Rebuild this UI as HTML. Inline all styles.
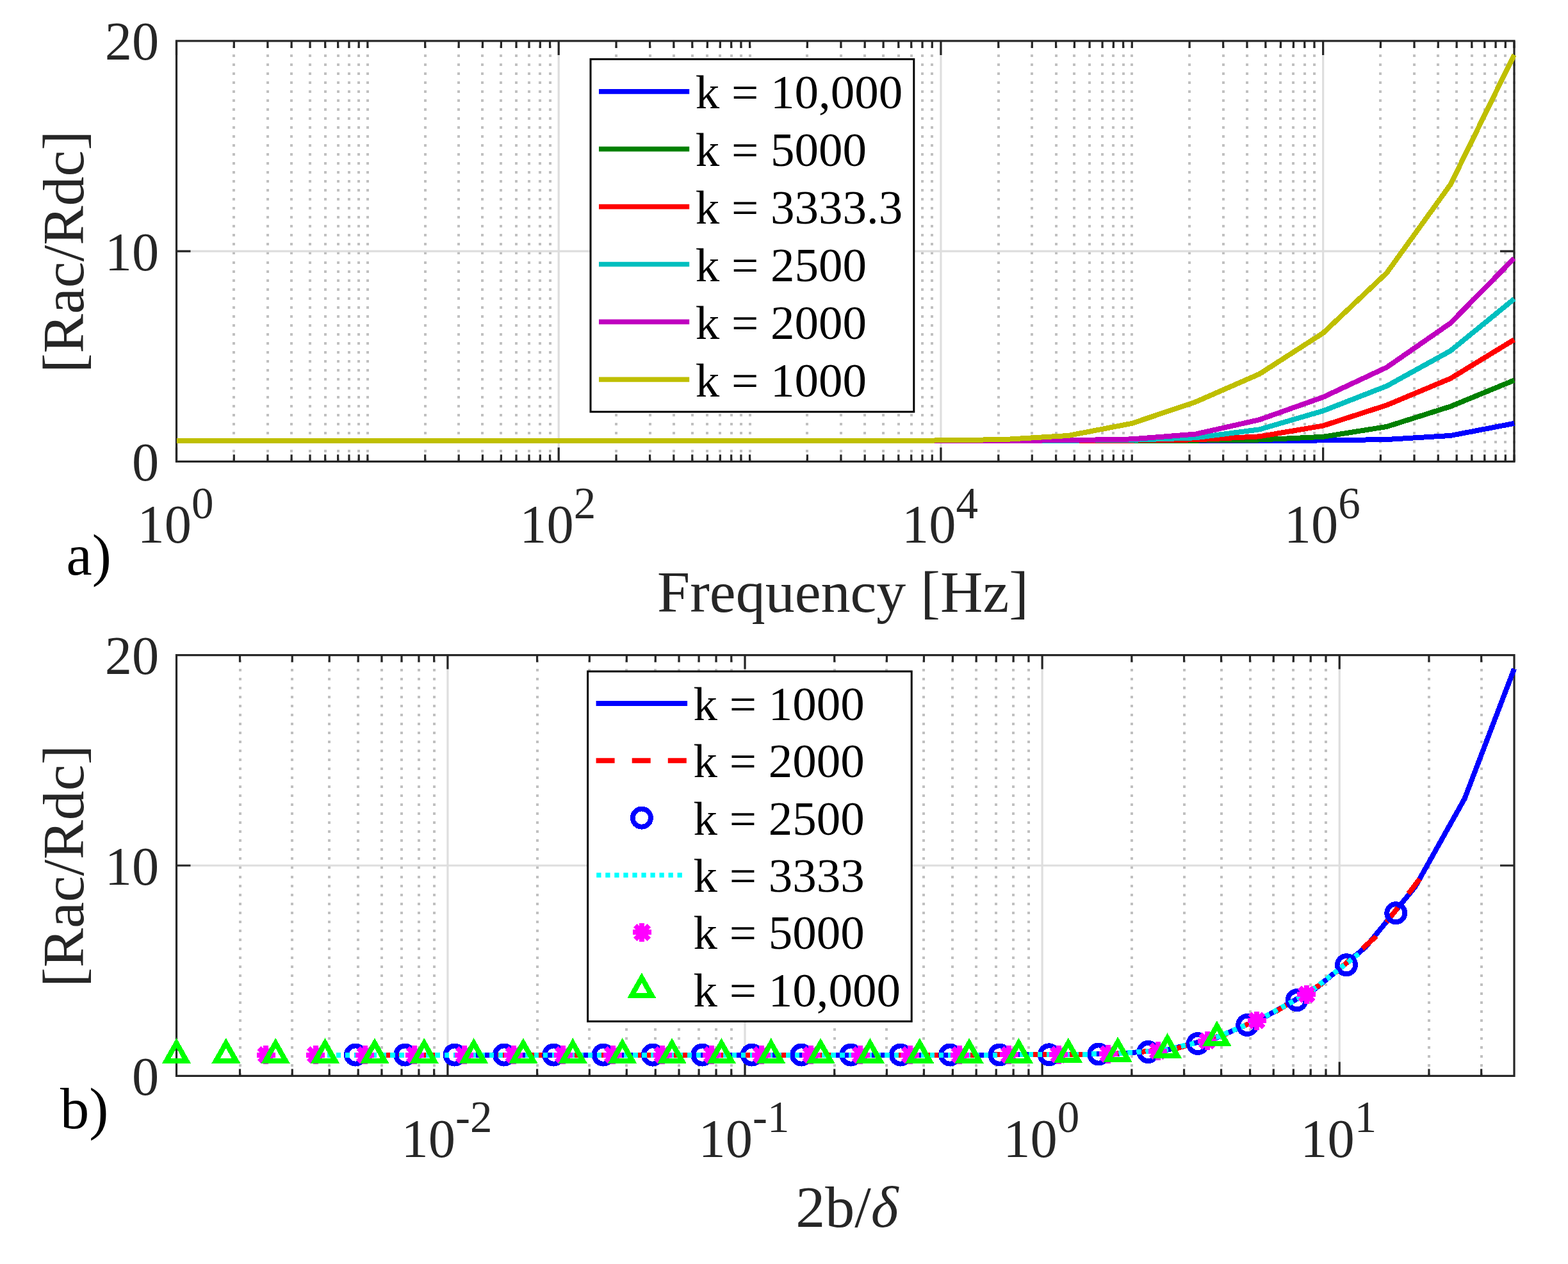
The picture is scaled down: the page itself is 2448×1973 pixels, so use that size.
<!DOCTYPE html>
<html><head><meta charset="utf-8"><title>Rac/Rdc plots</title><style>html,body{margin:0;padding:0;background:#fff;}svg{display:block;}</style></head><body>
<svg width="2448" height="1973" viewBox="0 0 2448 1973">
<rect width="2448" height="1973" fill="#fff"/>
<line x1="365.31" y1="720.4" x2="365.31" y2="63.9" stroke="#c0c0c0" stroke-width="4" stroke-dasharray="4 10.04" shape-rendering="crispEdges"/>
<line x1="417.85" y1="720.4" x2="417.85" y2="63.9" stroke="#c0c0c0" stroke-width="4" stroke-dasharray="4 10.04" shape-rendering="crispEdges"/>
<line x1="455.13" y1="720.4" x2="455.13" y2="63.9" stroke="#c0c0c0" stroke-width="4" stroke-dasharray="4 10.04" shape-rendering="crispEdges"/>
<line x1="484.04" y1="720.4" x2="484.04" y2="63.9" stroke="#c0c0c0" stroke-width="4" stroke-dasharray="4 10.04" shape-rendering="crispEdges"/>
<line x1="507.67" y1="720.4" x2="507.67" y2="63.9" stroke="#c0c0c0" stroke-width="4" stroke-dasharray="4 10.04" shape-rendering="crispEdges"/>
<line x1="527.64" y1="720.4" x2="527.64" y2="63.9" stroke="#c0c0c0" stroke-width="4" stroke-dasharray="4 10.04" shape-rendering="crispEdges"/>
<line x1="544.94" y1="720.4" x2="544.94" y2="63.9" stroke="#c0c0c0" stroke-width="4" stroke-dasharray="4 10.04" shape-rendering="crispEdges"/>
<line x1="560.21" y1="720.4" x2="560.21" y2="63.9" stroke="#c0c0c0" stroke-width="4" stroke-dasharray="4 10.04" shape-rendering="crispEdges"/>
<line x1="663.67" y1="720.4" x2="663.67" y2="63.9" stroke="#c0c0c0" stroke-width="4" stroke-dasharray="4 10.04" shape-rendering="crispEdges"/>
<line x1="716.21" y1="720.4" x2="716.21" y2="63.9" stroke="#c0c0c0" stroke-width="4" stroke-dasharray="4 10.04" shape-rendering="crispEdges"/>
<line x1="753.49" y1="720.4" x2="753.49" y2="63.9" stroke="#c0c0c0" stroke-width="4" stroke-dasharray="4 10.04" shape-rendering="crispEdges"/>
<line x1="782.4" y1="720.4" x2="782.4" y2="63.9" stroke="#c0c0c0" stroke-width="4" stroke-dasharray="4 10.04" shape-rendering="crispEdges"/>
<line x1="806.02" y1="720.4" x2="806.02" y2="63.9" stroke="#c0c0c0" stroke-width="4" stroke-dasharray="4 10.04" shape-rendering="crispEdges"/>
<line x1="826" y1="720.4" x2="826" y2="63.9" stroke="#c0c0c0" stroke-width="4" stroke-dasharray="4 10.04" shape-rendering="crispEdges"/>
<line x1="843.3" y1="720.4" x2="843.3" y2="63.9" stroke="#c0c0c0" stroke-width="4" stroke-dasharray="4 10.04" shape-rendering="crispEdges"/>
<line x1="858.56" y1="720.4" x2="858.56" y2="63.9" stroke="#c0c0c0" stroke-width="4" stroke-dasharray="4 10.04" shape-rendering="crispEdges"/>
<line x1="962.03" y1="720.4" x2="962.03" y2="63.9" stroke="#c0c0c0" stroke-width="4" stroke-dasharray="4 10.04" shape-rendering="crispEdges"/>
<line x1="1014.57" y1="720.4" x2="1014.57" y2="63.9" stroke="#c0c0c0" stroke-width="4" stroke-dasharray="4 10.04" shape-rendering="crispEdges"/>
<line x1="1051.84" y1="720.4" x2="1051.84" y2="63.9" stroke="#c0c0c0" stroke-width="4" stroke-dasharray="4 10.04" shape-rendering="crispEdges"/>
<line x1="1080.76" y1="720.4" x2="1080.76" y2="63.9" stroke="#c0c0c0" stroke-width="4" stroke-dasharray="4 10.04" shape-rendering="crispEdges"/>
<line x1="1104.38" y1="720.4" x2="1104.38" y2="63.9" stroke="#c0c0c0" stroke-width="4" stroke-dasharray="4 10.04" shape-rendering="crispEdges"/>
<line x1="1124.36" y1="720.4" x2="1124.36" y2="63.9" stroke="#c0c0c0" stroke-width="4" stroke-dasharray="4 10.04" shape-rendering="crispEdges"/>
<line x1="1141.66" y1="720.4" x2="1141.66" y2="63.9" stroke="#c0c0c0" stroke-width="4" stroke-dasharray="4 10.04" shape-rendering="crispEdges"/>
<line x1="1156.92" y1="720.4" x2="1156.92" y2="63.9" stroke="#c0c0c0" stroke-width="4" stroke-dasharray="4 10.04" shape-rendering="crispEdges"/>
<line x1="1260.39" y1="720.4" x2="1260.39" y2="63.9" stroke="#c0c0c0" stroke-width="4" stroke-dasharray="4 10.04" shape-rendering="crispEdges"/>
<line x1="1312.92" y1="720.4" x2="1312.92" y2="63.9" stroke="#c0c0c0" stroke-width="4" stroke-dasharray="4 10.04" shape-rendering="crispEdges"/>
<line x1="1350.2" y1="720.4" x2="1350.2" y2="63.9" stroke="#c0c0c0" stroke-width="4" stroke-dasharray="4 10.04" shape-rendering="crispEdges"/>
<line x1="1379.11" y1="720.4" x2="1379.11" y2="63.9" stroke="#c0c0c0" stroke-width="4" stroke-dasharray="4 10.04" shape-rendering="crispEdges"/>
<line x1="1402.74" y1="720.4" x2="1402.74" y2="63.9" stroke="#c0c0c0" stroke-width="4" stroke-dasharray="4 10.04" shape-rendering="crispEdges"/>
<line x1="1422.71" y1="720.4" x2="1422.71" y2="63.9" stroke="#c0c0c0" stroke-width="4" stroke-dasharray="4 10.04" shape-rendering="crispEdges"/>
<line x1="1440.01" y1="720.4" x2="1440.01" y2="63.9" stroke="#c0c0c0" stroke-width="4" stroke-dasharray="4 10.04" shape-rendering="crispEdges"/>
<line x1="1455.28" y1="720.4" x2="1455.28" y2="63.9" stroke="#c0c0c0" stroke-width="4" stroke-dasharray="4 10.04" shape-rendering="crispEdges"/>
<line x1="1558.74" y1="720.4" x2="1558.74" y2="63.9" stroke="#c0c0c0" stroke-width="4" stroke-dasharray="4 10.04" shape-rendering="crispEdges"/>
<line x1="1611.28" y1="720.4" x2="1611.28" y2="63.9" stroke="#c0c0c0" stroke-width="4" stroke-dasharray="4 10.04" shape-rendering="crispEdges"/>
<line x1="1648.56" y1="720.4" x2="1648.56" y2="63.9" stroke="#c0c0c0" stroke-width="4" stroke-dasharray="4 10.04" shape-rendering="crispEdges"/>
<line x1="1677.47" y1="720.4" x2="1677.47" y2="63.9" stroke="#c0c0c0" stroke-width="4" stroke-dasharray="4 10.04" shape-rendering="crispEdges"/>
<line x1="1701.1" y1="720.4" x2="1701.1" y2="63.9" stroke="#c0c0c0" stroke-width="4" stroke-dasharray="4 10.04" shape-rendering="crispEdges"/>
<line x1="1721.07" y1="720.4" x2="1721.07" y2="63.9" stroke="#c0c0c0" stroke-width="4" stroke-dasharray="4 10.04" shape-rendering="crispEdges"/>
<line x1="1738.37" y1="720.4" x2="1738.37" y2="63.9" stroke="#c0c0c0" stroke-width="4" stroke-dasharray="4 10.04" shape-rendering="crispEdges"/>
<line x1="1753.63" y1="720.4" x2="1753.63" y2="63.9" stroke="#c0c0c0" stroke-width="4" stroke-dasharray="4 10.04" shape-rendering="crispEdges"/>
<line x1="1857.1" y1="720.4" x2="1857.1" y2="63.9" stroke="#c0c0c0" stroke-width="4" stroke-dasharray="4 10.04" shape-rendering="crispEdges"/>
<line x1="1909.64" y1="720.4" x2="1909.64" y2="63.9" stroke="#c0c0c0" stroke-width="4" stroke-dasharray="4 10.04" shape-rendering="crispEdges"/>
<line x1="1946.91" y1="720.4" x2="1946.91" y2="63.9" stroke="#c0c0c0" stroke-width="4" stroke-dasharray="4 10.04" shape-rendering="crispEdges"/>
<line x1="1975.83" y1="720.4" x2="1975.83" y2="63.9" stroke="#c0c0c0" stroke-width="4" stroke-dasharray="4 10.04" shape-rendering="crispEdges"/>
<line x1="1999.45" y1="720.4" x2="1999.45" y2="63.9" stroke="#c0c0c0" stroke-width="4" stroke-dasharray="4 10.04" shape-rendering="crispEdges"/>
<line x1="2019.43" y1="720.4" x2="2019.43" y2="63.9" stroke="#c0c0c0" stroke-width="4" stroke-dasharray="4 10.04" shape-rendering="crispEdges"/>
<line x1="2036.73" y1="720.4" x2="2036.73" y2="63.9" stroke="#c0c0c0" stroke-width="4" stroke-dasharray="4 10.04" shape-rendering="crispEdges"/>
<line x1="2051.99" y1="720.4" x2="2051.99" y2="63.9" stroke="#c0c0c0" stroke-width="4" stroke-dasharray="4 10.04" shape-rendering="crispEdges"/>
<line x1="2155.46" y1="720.4" x2="2155.46" y2="63.9" stroke="#c0c0c0" stroke-width="4" stroke-dasharray="4 10.04" shape-rendering="crispEdges"/>
<line x1="2208" y1="720.4" x2="2208" y2="63.9" stroke="#c0c0c0" stroke-width="4" stroke-dasharray="4 10.04" shape-rendering="crispEdges"/>
<line x1="2245.27" y1="720.4" x2="2245.27" y2="63.9" stroke="#c0c0c0" stroke-width="4" stroke-dasharray="4 10.04" shape-rendering="crispEdges"/>
<line x1="2274.19" y1="720.4" x2="2274.19" y2="63.9" stroke="#c0c0c0" stroke-width="4" stroke-dasharray="4 10.04" shape-rendering="crispEdges"/>
<line x1="2297.81" y1="720.4" x2="2297.81" y2="63.9" stroke="#c0c0c0" stroke-width="4" stroke-dasharray="4 10.04" shape-rendering="crispEdges"/>
<line x1="2317.78" y1="720.4" x2="2317.78" y2="63.9" stroke="#c0c0c0" stroke-width="4" stroke-dasharray="4 10.04" shape-rendering="crispEdges"/>
<line x1="2335.09" y1="720.4" x2="2335.09" y2="63.9" stroke="#c0c0c0" stroke-width="4" stroke-dasharray="4 10.04" shape-rendering="crispEdges"/>
<line x1="2350.35" y1="720.4" x2="2350.35" y2="63.9" stroke="#c0c0c0" stroke-width="4" stroke-dasharray="4 10.04" shape-rendering="crispEdges"/>
<line x1="573.86" y1="720.4" x2="573.86" y2="63.9" stroke="#c0c0c0" stroke-width="4" stroke-dasharray="4 10.04" shape-rendering="crispEdges"/>
<line x1="1170.57" y1="720.4" x2="1170.57" y2="63.9" stroke="#c0c0c0" stroke-width="4" stroke-dasharray="4 10.04" shape-rendering="crispEdges"/>
<line x1="1767.29" y1="720.4" x2="1767.29" y2="63.9" stroke="#c0c0c0" stroke-width="4" stroke-dasharray="4 10.04" shape-rendering="crispEdges"/>
<line x1="2364" y1="720.4" x2="2364" y2="63.9" stroke="#c0c0c0" stroke-width="4" stroke-dasharray="4 10.04" shape-rendering="crispEdges"/>
<line x1="872.21" y1="720.4" x2="872.21" y2="63.9" stroke="#dedede" stroke-width="3.2"/>
<line x1="1468.93" y1="720.4" x2="1468.93" y2="63.9" stroke="#dedede" stroke-width="3.2"/>
<line x1="2065.64" y1="720.4" x2="2065.64" y2="63.9" stroke="#dedede" stroke-width="3.2"/>
<line x1="275.5" y1="392.15" x2="2364.0" y2="392.15" stroke="#dedede" stroke-width="3.2"/>
<path d="M275.5 720.4V698.4M275.5 63.9V85.9M872.21 720.4V698.4M872.21 63.9V85.9M1468.93 720.4V698.4M1468.93 63.9V85.9M2065.64 720.4V698.4M2065.64 63.9V85.9M365.31 720.4V709.4M365.31 63.9V74.9M417.85 720.4V709.4M417.85 63.9V74.9M455.13 720.4V709.4M455.13 63.9V74.9M484.04 720.4V709.4M484.04 63.9V74.9M507.67 720.4V709.4M507.67 63.9V74.9M527.64 720.4V709.4M527.64 63.9V74.9M544.94 720.4V709.4M544.94 63.9V74.9M560.21 720.4V709.4M560.21 63.9V74.9M663.67 720.4V709.4M663.67 63.9V74.9M716.21 720.4V709.4M716.21 63.9V74.9M753.49 720.4V709.4M753.49 63.9V74.9M782.4 720.4V709.4M782.4 63.9V74.9M806.02 720.4V709.4M806.02 63.9V74.9M826 720.4V709.4M826 63.9V74.9M843.3 720.4V709.4M843.3 63.9V74.9M858.56 720.4V709.4M858.56 63.9V74.9M962.03 720.4V709.4M962.03 63.9V74.9M1014.57 720.4V709.4M1014.57 63.9V74.9M1051.84 720.4V709.4M1051.84 63.9V74.9M1080.76 720.4V709.4M1080.76 63.9V74.9M1104.38 720.4V709.4M1104.38 63.9V74.9M1124.36 720.4V709.4M1124.36 63.9V74.9M1141.66 720.4V709.4M1141.66 63.9V74.9M1156.92 720.4V709.4M1156.92 63.9V74.9M1260.39 720.4V709.4M1260.39 63.9V74.9M1312.92 720.4V709.4M1312.92 63.9V74.9M1350.2 720.4V709.4M1350.2 63.9V74.9M1379.11 720.4V709.4M1379.11 63.9V74.9M1402.74 720.4V709.4M1402.74 63.9V74.9M1422.71 720.4V709.4M1422.71 63.9V74.9M1440.01 720.4V709.4M1440.01 63.9V74.9M1455.28 720.4V709.4M1455.28 63.9V74.9M1558.74 720.4V709.4M1558.74 63.9V74.9M1611.28 720.4V709.4M1611.28 63.9V74.9M1648.56 720.4V709.4M1648.56 63.9V74.9M1677.47 720.4V709.4M1677.47 63.9V74.9M1701.1 720.4V709.4M1701.1 63.9V74.9M1721.07 720.4V709.4M1721.07 63.9V74.9M1738.37 720.4V709.4M1738.37 63.9V74.9M1753.63 720.4V709.4M1753.63 63.9V74.9M1857.1 720.4V709.4M1857.1 63.9V74.9M1909.64 720.4V709.4M1909.64 63.9V74.9M1946.91 720.4V709.4M1946.91 63.9V74.9M1975.83 720.4V709.4M1975.83 63.9V74.9M1999.45 720.4V709.4M1999.45 63.9V74.9M2019.43 720.4V709.4M2019.43 63.9V74.9M2036.73 720.4V709.4M2036.73 63.9V74.9M2051.99 720.4V709.4M2051.99 63.9V74.9M2155.46 720.4V709.4M2155.46 63.9V74.9M2208 720.4V709.4M2208 63.9V74.9M2245.27 720.4V709.4M2245.27 63.9V74.9M2274.19 720.4V709.4M2274.19 63.9V74.9M2297.81 720.4V709.4M2297.81 63.9V74.9M2317.78 720.4V709.4M2317.78 63.9V74.9M2335.09 720.4V709.4M2335.09 63.9V74.9M2350.35 720.4V709.4M2350.35 63.9V74.9M573.86 720.4V709.4M573.86 63.9V74.9M1170.57 720.4V709.4M1170.57 63.9V74.9M1767.29 720.4V709.4M1767.29 63.9V74.9M2364 720.4V709.4M2364 63.9V74.9M275.5 392.15H297.5M2364.0 392.15H2342.0" stroke="#262626" stroke-width="3.2" fill="none"/>
<rect x="275.5" y="63.9" width="2088.5" height="656.5" fill="none" stroke="#262626" stroke-width="3.2" stroke-linejoin="miter"/>
<g fill="none" stroke-width="8.0" stroke-linejoin="round" stroke-linecap="butt" shape-rendering="crispEdges">
<polyline points="275.5,687.87 374.95,687.87 474.4,687.87 573.86,687.87 673.31,687.87 772.76,687.87 872.21,687.87 971.67,687.87 1071.12,687.87 1170.57,687.87 1270.02,687.87 1369.48,687.87 1468.93,687.87 1568.38,687.87 1667.83,687.87 1767.29,687.87 1866.74,687.86 1966.19,687.79 2065.64,687.47 2165.1,686.02 2264.55,679.96 2364,660.86" stroke="#0000ff"/>
<polyline points="275.5,687.87 374.95,687.87 474.4,687.87 573.86,687.87 673.31,687.87 772.76,687.87 872.21,687.87 971.67,687.87 1071.12,687.87 1170.57,687.87 1270.02,687.87 1369.48,687.87 1468.93,687.87 1568.38,687.87 1667.83,687.86 1767.29,687.81 1866.74,687.57 1966.19,686.49 2065.64,681.84 2165.1,665.95 2264.55,634.44 2364,593.54" stroke="#008000"/>
<polyline points="275.5,687.87 374.95,687.87 474.4,687.87 573.86,687.87 673.31,687.87 772.76,687.87 872.21,687.87 971.67,687.87 1071.12,687.87 1170.57,687.87 1270.02,687.87 1369.48,687.87 1468.93,687.87 1568.38,687.86 1667.83,687.8 1767.29,687.55 1866.74,686.37 1966.19,681.34 2065.64,664.53 2165.1,632.38 2264.55,590.79 2364,530.15" stroke="#ff0000"/>
<polyline points="275.5,687.87 374.95,687.87 474.4,687.87 573.86,687.87 673.31,687.87 772.76,687.87 872.21,687.87 971.67,687.87 1071.12,687.87 1170.57,687.87 1270.02,687.87 1369.48,687.87 1468.93,687.86 1568.38,687.83 1667.83,687.65 1767.29,686.84 1866.74,683.3 1966.19,670.36 2065.64,641.33 2165.1,602.52 2264.55,547.62 2364,466.63" stroke="#00bfbf"/>
<polyline points="275.5,687.87 374.95,687.87 474.4,687.87 573.86,687.87 673.31,687.87 772.76,687.87 872.21,687.87 971.67,687.87 1071.12,687.87 1170.57,687.87 1270.02,687.87 1369.48,687.87 1468.93,687.85 1568.38,687.76 1667.83,687.33 1767.29,685.4 1866.74,677.58 1966.19,655.17 2065.64,619.91 2165.1,573.31 2264.55,504.33 2364,403.12" stroke="#bf00bf"/>
<polyline points="275.5,687.87 374.95,687.87 474.4,687.87 573.86,687.87 673.31,687.87 772.76,687.87 872.21,687.87 971.67,687.87 1071.12,687.87 1170.57,687.87 1270.02,687.86 1369.48,687.79 1468.93,687.47 1568.38,686.02 1667.83,679.96 1767.29,660.86 1866.74,627.31 1966.19,583.83 2065.64,519.84 2165.1,425.88 2264.55,287.97 2364,85.54" stroke="#bfbf00"/>
</g>
<line x1="374.5" y1="1679.4" x2="374.5" y2="1022.6" stroke="#c0c0c0" stroke-width="4" stroke-dasharray="4 10.04" shape-rendering="crispEdges"/>
<line x1="456.23" y1="1679.4" x2="456.23" y2="1022.6" stroke="#c0c0c0" stroke-width="4" stroke-dasharray="4 10.04" shape-rendering="crispEdges"/>
<line x1="514.22" y1="1679.4" x2="514.22" y2="1022.6" stroke="#c0c0c0" stroke-width="4" stroke-dasharray="4 10.04" shape-rendering="crispEdges"/>
<line x1="559.19" y1="1679.4" x2="559.19" y2="1022.6" stroke="#c0c0c0" stroke-width="4" stroke-dasharray="4 10.04" shape-rendering="crispEdges"/>
<line x1="595.94" y1="1679.4" x2="595.94" y2="1022.6" stroke="#c0c0c0" stroke-width="4" stroke-dasharray="4 10.04" shape-rendering="crispEdges"/>
<line x1="627.01" y1="1679.4" x2="627.01" y2="1022.6" stroke="#c0c0c0" stroke-width="4" stroke-dasharray="4 10.04" shape-rendering="crispEdges"/>
<line x1="653.93" y1="1679.4" x2="653.93" y2="1022.6" stroke="#c0c0c0" stroke-width="4" stroke-dasharray="4 10.04" shape-rendering="crispEdges"/>
<line x1="677.67" y1="1679.4" x2="677.67" y2="1022.6" stroke="#c0c0c0" stroke-width="4" stroke-dasharray="4 10.04" shape-rendering="crispEdges"/>
<line x1="838.61" y1="1679.4" x2="838.61" y2="1022.6" stroke="#c0c0c0" stroke-width="4" stroke-dasharray="4 10.04" shape-rendering="crispEdges"/>
<line x1="920.34" y1="1679.4" x2="920.34" y2="1022.6" stroke="#c0c0c0" stroke-width="4" stroke-dasharray="4 10.04" shape-rendering="crispEdges"/>
<line x1="978.33" y1="1679.4" x2="978.33" y2="1022.6" stroke="#c0c0c0" stroke-width="4" stroke-dasharray="4 10.04" shape-rendering="crispEdges"/>
<line x1="1023.3" y1="1679.4" x2="1023.3" y2="1022.6" stroke="#c0c0c0" stroke-width="4" stroke-dasharray="4 10.04" shape-rendering="crispEdges"/>
<line x1="1060.05" y1="1679.4" x2="1060.05" y2="1022.6" stroke="#c0c0c0" stroke-width="4" stroke-dasharray="4 10.04" shape-rendering="crispEdges"/>
<line x1="1091.12" y1="1679.4" x2="1091.12" y2="1022.6" stroke="#c0c0c0" stroke-width="4" stroke-dasharray="4 10.04" shape-rendering="crispEdges"/>
<line x1="1118.04" y1="1679.4" x2="1118.04" y2="1022.6" stroke="#c0c0c0" stroke-width="4" stroke-dasharray="4 10.04" shape-rendering="crispEdges"/>
<line x1="1141.78" y1="1679.4" x2="1141.78" y2="1022.6" stroke="#c0c0c0" stroke-width="4" stroke-dasharray="4 10.04" shape-rendering="crispEdges"/>
<line x1="1302.73" y1="1679.4" x2="1302.73" y2="1022.6" stroke="#c0c0c0" stroke-width="4" stroke-dasharray="4 10.04" shape-rendering="crispEdges"/>
<line x1="1384.45" y1="1679.4" x2="1384.45" y2="1022.6" stroke="#c0c0c0" stroke-width="4" stroke-dasharray="4 10.04" shape-rendering="crispEdges"/>
<line x1="1442.44" y1="1679.4" x2="1442.44" y2="1022.6" stroke="#c0c0c0" stroke-width="4" stroke-dasharray="4 10.04" shape-rendering="crispEdges"/>
<line x1="1487.41" y1="1679.4" x2="1487.41" y2="1022.6" stroke="#c0c0c0" stroke-width="4" stroke-dasharray="4 10.04" shape-rendering="crispEdges"/>
<line x1="1524.16" y1="1679.4" x2="1524.16" y2="1022.6" stroke="#c0c0c0" stroke-width="4" stroke-dasharray="4 10.04" shape-rendering="crispEdges"/>
<line x1="1555.23" y1="1679.4" x2="1555.23" y2="1022.6" stroke="#c0c0c0" stroke-width="4" stroke-dasharray="4 10.04" shape-rendering="crispEdges"/>
<line x1="1582.15" y1="1679.4" x2="1582.15" y2="1022.6" stroke="#c0c0c0" stroke-width="4" stroke-dasharray="4 10.04" shape-rendering="crispEdges"/>
<line x1="1605.89" y1="1679.4" x2="1605.89" y2="1022.6" stroke="#c0c0c0" stroke-width="4" stroke-dasharray="4 10.04" shape-rendering="crispEdges"/>
<line x1="1766.84" y1="1679.4" x2="1766.84" y2="1022.6" stroke="#c0c0c0" stroke-width="4" stroke-dasharray="4 10.04" shape-rendering="crispEdges"/>
<line x1="1848.56" y1="1679.4" x2="1848.56" y2="1022.6" stroke="#c0c0c0" stroke-width="4" stroke-dasharray="4 10.04" shape-rendering="crispEdges"/>
<line x1="1906.55" y1="1679.4" x2="1906.55" y2="1022.6" stroke="#c0c0c0" stroke-width="4" stroke-dasharray="4 10.04" shape-rendering="crispEdges"/>
<line x1="1951.53" y1="1679.4" x2="1951.53" y2="1022.6" stroke="#c0c0c0" stroke-width="4" stroke-dasharray="4 10.04" shape-rendering="crispEdges"/>
<line x1="1988.27" y1="1679.4" x2="1988.27" y2="1022.6" stroke="#c0c0c0" stroke-width="4" stroke-dasharray="4 10.04" shape-rendering="crispEdges"/>
<line x1="2019.35" y1="1679.4" x2="2019.35" y2="1022.6" stroke="#c0c0c0" stroke-width="4" stroke-dasharray="4 10.04" shape-rendering="crispEdges"/>
<line x1="2046.26" y1="1679.4" x2="2046.26" y2="1022.6" stroke="#c0c0c0" stroke-width="4" stroke-dasharray="4 10.04" shape-rendering="crispEdges"/>
<line x1="2070" y1="1679.4" x2="2070" y2="1022.6" stroke="#c0c0c0" stroke-width="4" stroke-dasharray="4 10.04" shape-rendering="crispEdges"/>
<line x1="2230.95" y1="1679.4" x2="2230.95" y2="1022.6" stroke="#c0c0c0" stroke-width="4" stroke-dasharray="4 10.04" shape-rendering="crispEdges"/>
<line x1="2312.67" y1="1679.4" x2="2312.67" y2="1022.6" stroke="#c0c0c0" stroke-width="4" stroke-dasharray="4 10.04" shape-rendering="crispEdges"/>
<line x1="698.9" y1="1679.4" x2="698.9" y2="1022.6" stroke="#dedede" stroke-width="3.2"/>
<line x1="1163.01" y1="1679.4" x2="1163.01" y2="1022.6" stroke="#dedede" stroke-width="3.2"/>
<line x1="1627.13" y1="1679.4" x2="1627.13" y2="1022.6" stroke="#dedede" stroke-width="3.2"/>
<line x1="2091.24" y1="1679.4" x2="2091.24" y2="1022.6" stroke="#dedede" stroke-width="3.2"/>
<line x1="275.5" y1="1351" x2="2364.0" y2="1351" stroke="#dedede" stroke-width="3.2"/>
<path d="M698.9 1679.4V1657.4M698.9 1022.6V1044.6M1163.01 1679.4V1657.4M1163.01 1022.6V1044.6M1627.13 1679.4V1657.4M1627.13 1022.6V1044.6M2091.24 1679.4V1657.4M2091.24 1022.6V1044.6M374.5 1679.4V1668.4M374.5 1022.6V1033.6M456.23 1679.4V1668.4M456.23 1022.6V1033.6M514.22 1679.4V1668.4M514.22 1022.6V1033.6M559.19 1679.4V1668.4M559.19 1022.6V1033.6M595.94 1679.4V1668.4M595.94 1022.6V1033.6M627.01 1679.4V1668.4M627.01 1022.6V1033.6M653.93 1679.4V1668.4M653.93 1022.6V1033.6M677.67 1679.4V1668.4M677.67 1022.6V1033.6M838.61 1679.4V1668.4M838.61 1022.6V1033.6M920.34 1679.4V1668.4M920.34 1022.6V1033.6M978.33 1679.4V1668.4M978.33 1022.6V1033.6M1023.3 1679.4V1668.4M1023.3 1022.6V1033.6M1060.05 1679.4V1668.4M1060.05 1022.6V1033.6M1091.12 1679.4V1668.4M1091.12 1022.6V1033.6M1118.04 1679.4V1668.4M1118.04 1022.6V1033.6M1141.78 1679.4V1668.4M1141.78 1022.6V1033.6M1302.73 1679.4V1668.4M1302.73 1022.6V1033.6M1384.45 1679.4V1668.4M1384.45 1022.6V1033.6M1442.44 1679.4V1668.4M1442.44 1022.6V1033.6M1487.41 1679.4V1668.4M1487.41 1022.6V1033.6M1524.16 1679.4V1668.4M1524.16 1022.6V1033.6M1555.23 1679.4V1668.4M1555.23 1022.6V1033.6M1582.15 1679.4V1668.4M1582.15 1022.6V1033.6M1605.89 1679.4V1668.4M1605.89 1022.6V1033.6M1766.84 1679.4V1668.4M1766.84 1022.6V1033.6M1848.56 1679.4V1668.4M1848.56 1022.6V1033.6M1906.55 1679.4V1668.4M1906.55 1022.6V1033.6M1951.53 1679.4V1668.4M1951.53 1022.6V1033.6M1988.27 1679.4V1668.4M1988.27 1022.6V1033.6M2019.35 1679.4V1668.4M2019.35 1022.6V1033.6M2046.26 1679.4V1668.4M2046.26 1022.6V1033.6M2070 1679.4V1668.4M2070 1022.6V1033.6M2230.95 1679.4V1668.4M2230.95 1022.6V1033.6M2312.67 1679.4V1668.4M2312.67 1022.6V1033.6M275.5 1351H297.5M2364.0 1351H2342.0" stroke="#262626" stroke-width="3.2" fill="none"/>
<rect x="275.5" y="1022.6" width="2088.5" height="656.8" fill="none" stroke="#262626" stroke-width="3.2" stroke-linejoin="miter"/>
<g fill="none" stroke-width="8.0" stroke-linejoin="round" stroke-linecap="butt" shape-rendering="crispEdges">
<polyline points="739.61,1646.56 816.96,1646.56 894.31,1646.56 971.67,1646.56 1049.02,1646.56 1126.37,1646.56 1203.72,1646.56 1281.07,1646.56 1358.43,1646.56 1435.78,1646.56 1513.13,1646.54 1590.48,1646.47 1667.83,1646.15 1745.19,1644.71 1822.54,1638.65 1899.89,1619.54 1977.24,1585.97 2054.59,1542.47 2131.94,1478.45 2209.3,1384.45 2286.65,1246.47 2364,1043.95" stroke="#0000ff"/>
<polyline points="599.9,1646.56 677.25,1646.56 754.6,1646.56 831.96,1646.56 909.31,1646.56 986.66,1646.56 1064.01,1646.56 1141.36,1646.56 1218.71,1646.56 1296.07,1646.56 1373.42,1646.56 1450.77,1646.55 1528.12,1646.53 1605.47,1646.44 1682.83,1646.01 1760.18,1644.08 1837.53,1636.27 1914.88,1613.84 1992.23,1578.56 2069.58,1531.94 2146.94,1462.93 2224.29,1361.67" stroke="#ff0000" stroke-dasharray="29 27.1"/>
</g>
<circle cx="554.92" cy="1646.56" r="14.1" fill="none" stroke="#0000ff" stroke-width="7.8" shape-rendering="crispEdges"/>
<circle cx="632.27" cy="1646.56" r="14.1" fill="none" stroke="#0000ff" stroke-width="7.8" shape-rendering="crispEdges"/>
<circle cx="709.63" cy="1646.56" r="14.1" fill="none" stroke="#0000ff" stroke-width="7.8" shape-rendering="crispEdges"/>
<circle cx="786.98" cy="1646.56" r="14.1" fill="none" stroke="#0000ff" stroke-width="7.8" shape-rendering="crispEdges"/>
<circle cx="864.33" cy="1646.56" r="14.1" fill="none" stroke="#0000ff" stroke-width="7.8" shape-rendering="crispEdges"/>
<circle cx="941.68" cy="1646.56" r="14.1" fill="none" stroke="#0000ff" stroke-width="7.8" shape-rendering="crispEdges"/>
<circle cx="1019.03" cy="1646.56" r="14.1" fill="none" stroke="#0000ff" stroke-width="7.8" shape-rendering="crispEdges"/>
<circle cx="1096.39" cy="1646.56" r="14.1" fill="none" stroke="#0000ff" stroke-width="7.8" shape-rendering="crispEdges"/>
<circle cx="1173.74" cy="1646.56" r="14.1" fill="none" stroke="#0000ff" stroke-width="7.8" shape-rendering="crispEdges"/>
<circle cx="1251.09" cy="1646.56" r="14.1" fill="none" stroke="#0000ff" stroke-width="7.8" shape-rendering="crispEdges"/>
<circle cx="1328.44" cy="1646.56" r="14.1" fill="none" stroke="#0000ff" stroke-width="7.8" shape-rendering="crispEdges"/>
<circle cx="1405.79" cy="1646.56" r="14.1" fill="none" stroke="#0000ff" stroke-width="7.8" shape-rendering="crispEdges"/>
<circle cx="1483.14" cy="1646.55" r="14.1" fill="none" stroke="#0000ff" stroke-width="7.8" shape-rendering="crispEdges"/>
<circle cx="1560.5" cy="1646.51" r="14.1" fill="none" stroke="#0000ff" stroke-width="7.8" shape-rendering="crispEdges"/>
<circle cx="1637.85" cy="1646.33" r="14.1" fill="none" stroke="#0000ff" stroke-width="7.8" shape-rendering="crispEdges"/>
<circle cx="1715.2" cy="1645.53" r="14.1" fill="none" stroke="#0000ff" stroke-width="7.8" shape-rendering="crispEdges"/>
<circle cx="1792.55" cy="1641.99" r="14.1" fill="none" stroke="#0000ff" stroke-width="7.8" shape-rendering="crispEdges"/>
<circle cx="1869.9" cy="1629.04" r="14.1" fill="none" stroke="#0000ff" stroke-width="7.8" shape-rendering="crispEdges"/>
<circle cx="1947.26" cy="1600" r="14.1" fill="none" stroke="#0000ff" stroke-width="7.8" shape-rendering="crispEdges"/>
<circle cx="2024.61" cy="1561.17" r="14.1" fill="none" stroke="#0000ff" stroke-width="7.8" shape-rendering="crispEdges"/>
<circle cx="2101.96" cy="1506.24" r="14.1" fill="none" stroke="#0000ff" stroke-width="7.8" shape-rendering="crispEdges"/>
<circle cx="2179.31" cy="1425.22" r="14.1" fill="none" stroke="#0000ff" stroke-width="7.8" shape-rendering="crispEdges"/>
<g fill="none" stroke-width="8.0" stroke-linejoin="round" stroke-linecap="butt" shape-rendering="crispEdges">
<polyline points="496.94,1646.56 574.29,1646.56 651.64,1646.56 728.99,1646.56 806.34,1646.56 883.7,1646.56 961.05,1646.56 1038.4,1646.56 1115.75,1646.56 1193.1,1646.56 1270.46,1646.56 1347.81,1646.56 1425.16,1646.56 1502.51,1646.54 1579.86,1646.49 1657.22,1646.23 1734.57,1645.05 1811.92,1640.02 1889.27,1623.21 1966.62,1591.04 2043.97,1549.43 2121.33,1488.76" stroke="#00ffff" stroke-dasharray="7.3 6.74"/>
</g>
<path d="M400.71 1646.56H429.71M415.21 1632.06V1661.06M404.51 1635.86L425.91 1657.26M404.51 1657.26L425.91 1635.86" stroke="#ff00ff" stroke-width="8" fill="none" shape-rendering="crispEdges"/>
<path d="M478.06 1646.56H507.06M492.56 1632.06V1661.06M481.86 1635.86L503.26 1657.26M481.86 1657.26L503.26 1635.86" stroke="#ff00ff" stroke-width="8" fill="none" shape-rendering="crispEdges"/>
<path d="M555.42 1646.56H584.42M569.92 1632.06V1661.06M559.22 1635.86L580.62 1657.26M559.22 1657.26L580.62 1635.86" stroke="#ff00ff" stroke-width="8" fill="none" shape-rendering="crispEdges"/>
<path d="M632.77 1646.56H661.77M647.27 1632.06V1661.06M636.57 1635.86L657.97 1657.26M636.57 1657.26L657.97 1635.86" stroke="#ff00ff" stroke-width="8" fill="none" shape-rendering="crispEdges"/>
<path d="M710.12 1646.56H739.12M724.62 1632.06V1661.06M713.92 1635.86L735.32 1657.26M713.92 1657.26L735.32 1635.86" stroke="#ff00ff" stroke-width="8" fill="none" shape-rendering="crispEdges"/>
<path d="M787.47 1646.56H816.47M801.97 1632.06V1661.06M791.27 1635.86L812.67 1657.26M791.27 1657.26L812.67 1635.86" stroke="#ff00ff" stroke-width="8" fill="none" shape-rendering="crispEdges"/>
<path d="M864.82 1646.56H893.82M879.32 1632.06V1661.06M868.62 1635.86L890.02 1657.26M868.62 1657.26L890.02 1635.86" stroke="#ff00ff" stroke-width="8" fill="none" shape-rendering="crispEdges"/>
<path d="M942.17 1646.56H971.17M956.67 1632.06V1661.06M945.97 1635.86L967.37 1657.26M945.97 1657.26L967.37 1635.86" stroke="#ff00ff" stroke-width="8" fill="none" shape-rendering="crispEdges"/>
<path d="M1019.53 1646.56H1048.53M1034.03 1632.06V1661.06M1023.33 1635.86L1044.73 1657.26M1023.33 1657.26L1044.73 1635.86" stroke="#ff00ff" stroke-width="8" fill="none" shape-rendering="crispEdges"/>
<path d="M1096.88 1646.56H1125.88M1111.38 1632.06V1661.06M1100.68 1635.86L1122.08 1657.26M1100.68 1657.26L1122.08 1635.86" stroke="#ff00ff" stroke-width="8" fill="none" shape-rendering="crispEdges"/>
<path d="M1174.23 1646.56H1203.23M1188.73 1632.06V1661.06M1178.03 1635.86L1199.43 1657.26M1178.03 1657.26L1199.43 1635.86" stroke="#ff00ff" stroke-width="8" fill="none" shape-rendering="crispEdges"/>
<path d="M1251.58 1646.56H1280.58M1266.08 1632.06V1661.06M1255.38 1635.86L1276.78 1657.26M1255.38 1657.26L1276.78 1635.86" stroke="#ff00ff" stroke-width="8" fill="none" shape-rendering="crispEdges"/>
<path d="M1328.93 1646.56H1357.93M1343.43 1632.06V1661.06M1332.73 1635.86L1354.13 1657.26M1332.73 1657.26L1354.13 1635.86" stroke="#ff00ff" stroke-width="8" fill="none" shape-rendering="crispEdges"/>
<path d="M1406.29 1646.56H1435.29M1420.79 1632.06V1661.06M1410.09 1635.86L1431.49 1657.26M1410.09 1657.26L1431.49 1635.86" stroke="#ff00ff" stroke-width="8" fill="none" shape-rendering="crispEdges"/>
<path d="M1483.64 1646.55H1512.64M1498.14 1632.05V1661.05M1487.44 1635.85L1508.84 1657.25M1487.44 1657.25L1508.84 1635.85" stroke="#ff00ff" stroke-width="8" fill="none" shape-rendering="crispEdges"/>
<path d="M1560.99 1646.49H1589.99M1575.49 1631.99V1660.99M1564.79 1635.79L1586.19 1657.19M1564.79 1657.19L1586.19 1635.79" stroke="#ff00ff" stroke-width="8" fill="none" shape-rendering="crispEdges"/>
<path d="M1638.34 1646.26H1667.34M1652.84 1631.76V1660.76M1642.14 1635.56L1663.54 1656.96M1642.14 1656.96L1663.54 1635.56" stroke="#ff00ff" stroke-width="8" fill="none" shape-rendering="crispEdges"/>
<path d="M1715.69 1645.17H1744.69M1730.19 1630.67V1659.67M1719.49 1634.47L1740.89 1655.87M1719.49 1655.87L1740.89 1634.47" stroke="#ff00ff" stroke-width="8" fill="none" shape-rendering="crispEdges"/>
<path d="M1793.04 1640.52H1822.04M1807.54 1626.02V1655.02M1796.84 1629.82L1818.24 1651.22M1796.84 1651.22L1818.24 1629.82" stroke="#ff00ff" stroke-width="8" fill="none" shape-rendering="crispEdges"/>
<path d="M1870.4 1624.63H1899.4M1884.9 1610.13V1639.13M1874.2 1613.93L1895.6 1635.33M1874.2 1635.33L1895.6 1613.93" stroke="#ff00ff" stroke-width="8" fill="none" shape-rendering="crispEdges"/>
<path d="M1947.75 1593.1H1976.75M1962.25 1578.6V1607.6M1951.55 1582.4L1972.95 1603.8M1951.55 1603.8L1972.95 1582.4" stroke="#ff00ff" stroke-width="8" fill="none" shape-rendering="crispEdges"/>
<path d="M2025.1 1552.19H2054.1M2039.6 1537.69V1566.69M2028.9 1541.49L2050.3 1562.89M2028.9 1562.89L2050.3 1541.49" stroke="#ff00ff" stroke-width="8" fill="none" shape-rendering="crispEdges"/>
<path d="M275.5 1620.11L298.05 1659.81L252.95 1659.81ZM275.5 1636.06L266.8 1651.76L284.2 1651.76Z" fill="#00ff00" fill-rule="evenodd" shape-rendering="crispEdges"/>
<path d="M352.85 1620.11L375.4 1659.81L330.3 1659.81ZM352.85 1636.06L344.15 1651.76L361.55 1651.76Z" fill="#00ff00" fill-rule="evenodd" shape-rendering="crispEdges"/>
<path d="M430.2 1620.11L452.75 1659.81L407.65 1659.81ZM430.2 1636.06L421.5 1651.76L438.9 1651.76Z" fill="#00ff00" fill-rule="evenodd" shape-rendering="crispEdges"/>
<path d="M507.56 1620.11L530.11 1659.81L485.01 1659.81ZM507.56 1636.06L498.86 1651.76L516.26 1651.76Z" fill="#00ff00" fill-rule="evenodd" shape-rendering="crispEdges"/>
<path d="M584.91 1620.11L607.46 1659.81L562.36 1659.81ZM584.91 1636.06L576.21 1651.76L593.61 1651.76Z" fill="#00ff00" fill-rule="evenodd" shape-rendering="crispEdges"/>
<path d="M662.26 1620.11L684.81 1659.81L639.71 1659.81ZM662.26 1636.06L653.56 1651.76L670.96 1651.76Z" fill="#00ff00" fill-rule="evenodd" shape-rendering="crispEdges"/>
<path d="M739.61 1620.11L762.16 1659.81L717.06 1659.81ZM739.61 1636.06L730.91 1651.76L748.31 1651.76Z" fill="#00ff00" fill-rule="evenodd" shape-rendering="crispEdges"/>
<path d="M816.96 1620.11L839.51 1659.81L794.41 1659.81ZM816.96 1636.06L808.26 1651.76L825.66 1651.76Z" fill="#00ff00" fill-rule="evenodd" shape-rendering="crispEdges"/>
<path d="M894.31 1620.11L916.86 1659.81L871.76 1659.81ZM894.31 1636.06L885.61 1651.76L903.01 1651.76Z" fill="#00ff00" fill-rule="evenodd" shape-rendering="crispEdges"/>
<path d="M971.67 1620.11L994.22 1659.81L949.12 1659.81ZM971.67 1636.06L962.97 1651.76L980.37 1651.76Z" fill="#00ff00" fill-rule="evenodd" shape-rendering="crispEdges"/>
<path d="M1049.02 1620.11L1071.57 1659.81L1026.47 1659.81ZM1049.02 1636.06L1040.32 1651.76L1057.72 1651.76Z" fill="#00ff00" fill-rule="evenodd" shape-rendering="crispEdges"/>
<path d="M1126.37 1620.11L1148.92 1659.81L1103.82 1659.81ZM1126.37 1636.06L1117.67 1651.76L1135.07 1651.76Z" fill="#00ff00" fill-rule="evenodd" shape-rendering="crispEdges"/>
<path d="M1203.72 1620.11L1226.27 1659.81L1181.17 1659.81ZM1203.72 1636.06L1195.02 1651.76L1212.42 1651.76Z" fill="#00ff00" fill-rule="evenodd" shape-rendering="crispEdges"/>
<path d="M1281.07 1620.11L1303.62 1659.81L1258.52 1659.81ZM1281.07 1636.06L1272.37 1651.76L1289.77 1651.76Z" fill="#00ff00" fill-rule="evenodd" shape-rendering="crispEdges"/>
<path d="M1358.43 1620.11L1380.98 1659.81L1335.88 1659.81ZM1358.43 1636.06L1349.73 1651.76L1367.13 1651.76Z" fill="#00ff00" fill-rule="evenodd" shape-rendering="crispEdges"/>
<path d="M1435.78 1620.11L1458.33 1659.81L1413.23 1659.81ZM1435.78 1636.06L1427.08 1651.76L1444.48 1651.76Z" fill="#00ff00" fill-rule="evenodd" shape-rendering="crispEdges"/>
<path d="M1513.13 1620.09L1535.68 1659.79L1490.58 1659.79ZM1513.13 1636.04L1504.43 1651.74L1521.83 1651.74Z" fill="#00ff00" fill-rule="evenodd" shape-rendering="crispEdges"/>
<path d="M1590.48 1620.02L1613.03 1659.72L1567.93 1659.72ZM1590.48 1635.97L1581.78 1651.67L1599.18 1651.67Z" fill="#00ff00" fill-rule="evenodd" shape-rendering="crispEdges"/>
<path d="M1667.83 1619.7L1690.38 1659.4L1645.28 1659.4ZM1667.83 1635.65L1659.13 1651.35L1676.53 1651.35Z" fill="#00ff00" fill-rule="evenodd" shape-rendering="crispEdges"/>
<path d="M1745.19 1618.26L1767.74 1657.96L1722.64 1657.96ZM1745.19 1634.21L1736.49 1649.91L1753.89 1649.91Z" fill="#00ff00" fill-rule="evenodd" shape-rendering="crispEdges"/>
<path d="M1822.54 1612.2L1845.09 1651.9L1799.99 1651.9ZM1822.54 1628.15L1813.84 1643.85L1831.24 1643.85Z" fill="#00ff00" fill-rule="evenodd" shape-rendering="crispEdges"/>
<path d="M1899.89 1593.09L1922.44 1632.79L1877.34 1632.79ZM1899.89 1609.04L1891.19 1624.74L1908.59 1624.74Z" fill="#00ff00" fill-rule="evenodd" shape-rendering="crispEdges"/>
<rect x="922" y="92.4" width="504.8" height="550.4" fill="#fff" stroke="#000" stroke-width="3"/>
<line x1="935" y1="142.8" x2="1076.2" y2="142.8" stroke="#0000ff" stroke-width="7.7"/>
<text x="1085.75" y="169" font-family="Liberation Serif, Times New Roman, serif" font-size="75.0" fill="#000">k = 10,000</text>
<line x1="935" y1="232.7" x2="1076.2" y2="232.7" stroke="#008000" stroke-width="7.7"/>
<text x="1085.75" y="258.9" font-family="Liberation Serif, Times New Roman, serif" font-size="75.0" fill="#000">k = 5000</text>
<line x1="935" y1="322.6" x2="1076.2" y2="322.6" stroke="#ff0000" stroke-width="7.7"/>
<text x="1085.75" y="348.8" font-family="Liberation Serif, Times New Roman, serif" font-size="75.0" fill="#000">k = 3333.3</text>
<line x1="935" y1="412.5" x2="1076.2" y2="412.5" stroke="#00bfbf" stroke-width="7.7"/>
<text x="1085.75" y="438.7" font-family="Liberation Serif, Times New Roman, serif" font-size="75.0" fill="#000">k = 2500</text>
<line x1="935" y1="502.4" x2="1076.2" y2="502.4" stroke="#bf00bf" stroke-width="7.7"/>
<text x="1085.75" y="528.6" font-family="Liberation Serif, Times New Roman, serif" font-size="75.0" fill="#000">k = 2000</text>
<line x1="935" y1="592.3" x2="1076.2" y2="592.3" stroke="#bfbf00" stroke-width="7.7"/>
<text x="1085.75" y="618.5" font-family="Liberation Serif, Times New Roman, serif" font-size="75.0" fill="#000">k = 1000</text>
<rect x="917.6" y="1048" width="505.6" height="546.3" fill="#fff" stroke="#000" stroke-width="3"/>
<line x1="930.6" y1="1097.9" x2="1073.1" y2="1097.9" stroke="#0000ff" stroke-width="8"/>
<text x="1082.45" y="1123.9" font-family="Liberation Serif, Times New Roman, serif" font-size="75.0" fill="#000">k = 1000</text>
<line x1="930.6" y1="1187.26" x2="1073.1" y2="1187.26" stroke="#ff0000" stroke-width="8" stroke-dasharray="29 27.1"/>
<text x="1082.45" y="1213.26" font-family="Liberation Serif, Times New Roman, serif" font-size="75.0" fill="#000">k = 2000</text>
<circle cx="1001.85" cy="1276.62" r="14.1" fill="none" stroke="#0000ff" stroke-width="7.8" shape-rendering="crispEdges"/>
<text x="1082.45" y="1302.62" font-family="Liberation Serif, Times New Roman, serif" font-size="75.0" fill="#000">k = 2500</text>
<line x1="931.2" y1="1365.98" x2="1070.5" y2="1365.98" stroke="#00ffff" stroke-width="7.7" stroke-dasharray="7.3 6.74"/>
<text x="1082.45" y="1391.98" font-family="Liberation Serif, Times New Roman, serif" font-size="75.0" fill="#000">k = 3333</text>
<path d="M987.95 1455.34H1016.95M1002.45 1440.84V1469.84M991.75 1444.64L1013.15 1466.04M991.75 1466.04L1013.15 1444.64" stroke="#ff00ff" stroke-width="8" fill="none" shape-rendering="crispEdges"/>
<text x="1082.45" y="1481.34" font-family="Liberation Serif, Times New Roman, serif" font-size="75.0" fill="#000">k = 5000</text>
<path d="M1001.85 1518.25L1024.4 1557.95L979.3 1557.95ZM1001.85 1534.2L993.15 1549.9L1010.55 1549.9Z" fill="#00ff00" fill-rule="evenodd" shape-rendering="crispEdges"/>
<text x="1082.45" y="1570.7" font-family="Liberation Serif, Times New Roman, serif" font-size="75.0" fill="#000">k = 10,000</text>
<text x="248.3" y="93.4" font-family="Liberation Serif, Times New Roman, serif" font-size="84.5" fill="#262626" text-anchor="end">20</text>
<text x="248.3" y="421.65" font-family="Liberation Serif, Times New Roman, serif" font-size="84.5" fill="#262626" text-anchor="end">10</text>
<text x="248.3" y="749.9" font-family="Liberation Serif, Times New Roman, serif" font-size="84.5" fill="#262626" text-anchor="end">0</text>
<text x="248.3" y="1052.1" font-family="Liberation Serif, Times New Roman, serif" font-size="84.5" fill="#262626" text-anchor="end">20</text>
<text x="248.3" y="1380.5" font-family="Liberation Serif, Times New Roman, serif" font-size="84.5" fill="#262626" text-anchor="end">10</text>
<text x="248.3" y="1708.9" font-family="Liberation Serif, Times New Roman, serif" font-size="84.5" fill="#262626" text-anchor="end">0</text>
<text x="274.1" y="846.9" font-family="Liberation Serif, Times New Roman, serif" font-size="84.5" fill="#262626" text-anchor="middle">10<tspan dy="-38.2" font-size="69.0">0</tspan></text>
<text x="870.81" y="846.9" font-family="Liberation Serif, Times New Roman, serif" font-size="84.5" fill="#262626" text-anchor="middle">10<tspan dy="-38.2" font-size="69.0">2</tspan></text>
<text x="1467.53" y="846.9" font-family="Liberation Serif, Times New Roman, serif" font-size="84.5" fill="#262626" text-anchor="middle">10<tspan dy="-38.2" font-size="69.0">4</tspan></text>
<text x="2064.24" y="846.9" font-family="Liberation Serif, Times New Roman, serif" font-size="84.5" fill="#262626" text-anchor="middle">10<tspan dy="-38.2" font-size="69.0">6</tspan></text>
<text x="697.5" y="1805.6" font-family="Liberation Serif, Times New Roman, serif" font-size="84.5" fill="#262626" text-anchor="middle">10<tspan dy="-38.2" font-size="69.0">-2</tspan></text>
<text x="1161.61" y="1805.6" font-family="Liberation Serif, Times New Roman, serif" font-size="84.5" fill="#262626" text-anchor="middle">10<tspan dy="-38.2" font-size="69.0">-1</tspan></text>
<text x="1625.73" y="1805.6" font-family="Liberation Serif, Times New Roman, serif" font-size="84.5" fill="#262626" text-anchor="middle">10<tspan dy="-38.2" font-size="69.0">0</tspan></text>
<text x="2089.84" y="1805.6" font-family="Liberation Serif, Times New Roman, serif" font-size="84.5" fill="#262626" text-anchor="middle">10<tspan dy="-38.2" font-size="69.0">1</tspan></text>
<text x="1316" y="955.1" font-family="Liberation Serif, Times New Roman, serif" font-size="92.0" fill="#262626" text-anchor="middle">Frequency [Hz]</text>
<text x="1322.4" y="1914.9" font-family="Liberation Serif, Times New Roman, serif" font-size="92.0" fill="#262626" text-anchor="middle">2b/<tspan font-style="italic">δ</tspan></text>
<text transform="translate(129.7 393) rotate(-90)" x="0" y="0" font-family="Liberation Serif, Times New Roman, serif" font-size="92.0" fill="#262626" text-anchor="middle">[Rac/Rdc]</text>
<text transform="translate(129.7 1351.8) rotate(-90)" x="0" y="0" font-family="Liberation Serif, Times New Roman, serif" font-size="92.0" fill="#262626" text-anchor="middle">[Rac/Rdc]</text>
<text x="103.6" y="897" font-family="Liberation Serif, Times New Roman, serif" font-size="90.5" fill="#000">a)</text>
<text x="93.9" y="1761" font-family="Liberation Serif, Times New Roman, serif" font-size="90.5" fill="#000">b)</text>
</svg>
</body></html>
